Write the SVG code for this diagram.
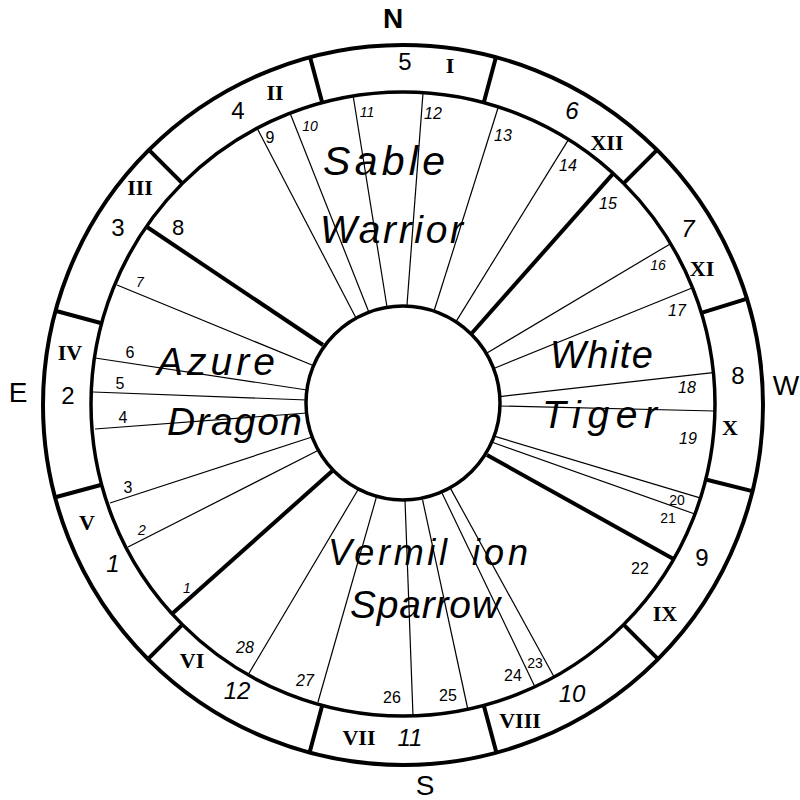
<svg xmlns="http://www.w3.org/2000/svg" width="800" height="800" viewBox="0 0 800 800">
<style>
.bg{fill:#fff}
.ring{fill:none;stroke:#000;stroke-width:4}
.ring2{fill:none;stroke:#000;stroke-width:3.5}
.hub{fill:#fff;stroke:#000;stroke-width:3.5}
.div{stroke:#000;stroke-width:4;stroke-linecap:butt}
.thk{stroke:#000;stroke-width:4;stroke-linecap:butt}
.thin{stroke:#000;stroke-width:1.2}
text{fill:#000;font-family:"Liberation Sans",Arial,sans-serif}
.cmp{font-size:28px;text-anchor:middle;dominant-baseline:central}
.rd{font-size:24px;text-anchor:middle;dominant-baseline:central}
.rm{font-family:"Liberation Serif","Times New Roman",serif;font-size:22px;font-weight:bold;text-anchor:middle;dominant-baseline:central}
.n{font-size:16px;text-anchor:middle;dominant-baseline:central}
.s{font-size:14px}
.it{font-style:italic}
.big{font-style:italic;font-size:39px}
</style>
<rect class="bg" x="0" y="0" width="800" height="800"/>
<g id="connectors">
<g id="ring-dividers">
<line class="div" x1="322.2" y1="102.6" x2="309.8" y2="56.3"/>
<line class="div" x1="483.8" y1="102.6" x2="496.2" y2="56.3"/>
<line class="div" x1="623.6" y1="183.4" x2="657.6" y2="149.4"/>
<line class="div" x1="701.4" y1="312.8" x2="747.3" y2="298.7"/>
<line class="div" x1="705.7" y1="479.5" x2="752.3" y2="491.1"/>
<line class="div" x1="623.6" y1="624.6" x2="657.6" y2="658.6"/>
<line class="div" x1="483.8" y1="705.4" x2="496.2" y2="751.7"/>
<line class="div" x1="322.2" y1="705.4" x2="309.8" y2="751.7"/>
<line class="div" x1="182.4" y1="624.6" x2="148.4" y2="658.6"/>
<line class="div" x1="101.6" y1="484.7" x2="55.3" y2="497.2"/>
<line class="div" x1="101.6" y1="323.3" x2="55.3" y2="310.8"/>
<line class="div" x1="182.4" y1="183.4" x2="148.4" y2="149.4"/>
</g>
<g id="quadrant-lines">
<line class="thk" x1="147" y1="227" x2="323" y2="345"/>
<line class="thk" x1="613.3" y1="173.3" x2="472" y2="333"/>
<line class="thk" x1="673.5" y1="559" x2="487" y2="455"/>
<line class="thk" x1="173" y1="613" x2="332.2" y2="471"/>
</g>
<g id="mansion-lines">
<line class="thin" x1="128" y1="547" x2="318.4" y2="450.3"/>
<line class="thin" x1="110" y1="503" x2="312" y2="437"/>
<line class="thin" x1="95" y1="429" x2="307" y2="413"/>
<line class="thin" x1="93" y1="392" x2="307" y2="400"/>
<line class="thin" x1="95" y1="358" x2="307" y2="390"/>
<line class="thin" x1="117" y1="285" x2="313.8" y2="365.8"/>
<line class="thin" x1="257" y1="128" x2="356.4" y2="318.7"/>
<line class="thin" x1="290" y1="113" x2="369.1" y2="312.8"/>
<line class="thin" x1="353" y1="95" x2="387" y2="307"/>
<line class="thin" x1="423" y1="93" x2="407" y2="305"/>
<line class="thin" x1="498" y1="108" x2="433.8" y2="311.8"/>
<line class="thin" x1="568.6" y1="139.4" x2="455.4" y2="322.6"/>
<line class="thin" x1="671" y1="243.4" x2="487" y2="353"/>
<line class="thin" x1="692.6" y1="287.7" x2="495" y2="368"/>
<line class="thin" x1="713" y1="372.7" x2="500" y2="396.6"/>
<line class="thin" x1="715" y1="411" x2="500" y2="406"/>
<line class="thin" x1="495" y1="436.4" x2="700.8" y2="498.1"/>
<line class="thin" x1="492.3" y1="442.3" x2="694.8" y2="514"/>
<line class="thin" x1="450.6" y1="488.6" x2="554" y2="676.8"/>
<line class="thin" x1="442.1" y1="493.2" x2="535" y2="687"/>
<line class="thin" x1="422.6" y1="500" x2="468" y2="710"/>
<line class="thin" x1="405" y1="500" x2="413" y2="716"/>
<line class="thin" x1="376.4" y1="497.2" x2="318" y2="702"/>
<line class="thin" x1="358" y1="489.8" x2="248" y2="675"/>
</g>
</g>
<g id="circles">
<circle id="outer-circle" class="ring" cx="403" cy="405" r="360"/>
<circle id="ring-circle" class="ring2" cx="403" cy="404" r="312"/>
<circle id="hub" class="hub" cx="403" cy="403" r="97"/>
</g>
<g id="compass">
<text class="cmp" x="393" y="18" font-weight="bold">N</text>
<text class="cmp" x="18" y="392">E</text>
<text class="cmp" x="786" y="385">W</text>
<text class="cmp" x="425" y="785">S</text>
</g>
<g id="ring-digits">
<text class="rd" x="405" y="61">5</text>
<text class="rd it" x="572" y="110">6</text>
<text class="rd it" x="688" y="228">7</text>
<text class="rd" x="738" y="375">8</text>
<text class="rd" x="702" y="557">9</text>
<text class="rd it" x="572" y="693">10</text>
<text class="rd it" x="410" y="737">11</text>
<text class="rd it" x="237" y="690">12</text>
<text class="rd it" x="113" y="563">1</text>
<text class="rd" x="68" y="395">2</text>
<text class="rd" x="118" y="227">3</text>
<text class="rd" x="238" y="110">4</text>
</g>
<g id="ring-numerals">
<text class="rm" x="450" y="65">I</text>
<text class="rm" x="607" y="142">XII</text>
<text class="rm" x="702" y="268">XI</text>
<text class="rm" x="730" y="427">X</text>
<text class="rm" x="665" y="613">IX</text>
<text class="rm" x="520" y="720">VIII</text>
<text class="rm" x="359" y="737">VII</text>
<text class="rm" x="192" y="660">VI</text>
<text class="rm" x="87" y="522">V</text>
<text class="rm" x="70" y="352">IV</text>
<text class="rm" x="140" y="187">III</text>
<text class="rm" x="275" y="92">II</text>
</g>
<g id="mansion-numbers">
<text class="n it s" x="187" y="588">1</text>
<text class="n it s" x="142" y="530">2</text>
<text class="n" x="128" y="487" font-size="18">3</text>
<text class="n" x="123" y="417">4</text>
<text class="n" x="120" y="383">5</text>
<text class="n" x="130" y="352">6</text>
<text class="n it s" x="140" y="282">7</text>
<text class="n" x="178" y="227" style="font-size:22px">8</text>
<text class="n" x="270" y="137">9</text>
<text class="n it s" x="310" y="126">10</text>
<text class="n it s" x="367" y="112">11</text>
<text class="n it" x="433" y="113">12</text>
<text class="n it" x="503" y="135">13</text>
<text class="n it" x="568" y="165">14</text>
<text class="n it" x="608" y="203">15</text>
<text class="n it s" x="658" y="265">16</text>
<text class="n it" x="677" y="310">17</text>
<text class="n it" x="687" y="387">18</text>
<text class="n it" x="688" y="438">19</text>
<text class="n s" x="677" y="500">20</text>
<text class="n s" x="668" y="518">21</text>
<text class="n" x="640" y="568">22</text>
<text class="n s" x="535" y="663">23</text>
<text class="n" x="513" y="675">24</text>
<text class="n" x="448" y="695">25</text>
<text class="n" x="392" y="697">26</text>
<text class="n it" x="305" y="680">27</text>
<text class="n it" x="245" y="647">28</text>
</g>
<g id="sable-warrior">
<text class="big" x="323" y="175" textLength="122" lengthAdjust="spacing" style="font-size:41px">Sable</text>
<text class="big" x="320" y="243" textLength="143" lengthAdjust="spacing">Warrior</text>
</g>
<g id="azure-dragon">
<text class="big" x="157" y="375" textLength="118" lengthAdjust="spacing">Azure</text>
<text class="big" x="167" y="435" textLength="135" lengthAdjust="spacing">Dragon</text>
</g>
<g id="white-tiger">
<text class="big" x="550" y="368" textLength="103" lengthAdjust="spacing" style="font-size:38px">White</text>
<text class="big" x="542" y="428" textLength="115" lengthAdjust="spacing">Tiger</text>
</g>
<g id="vermilion-sparrow">
<text class="big" x="328" y="565" textLength="119" lengthAdjust="spacing" style="font-size:36px">Vermil</text>
<text class="big" x="472" y="565" textLength="56" lengthAdjust="spacing" style="font-size:36px">ion</text>
<text class="big" x="350" y="618" textLength="150" lengthAdjust="spacing">Sparrow</text>
</g>
</svg>
